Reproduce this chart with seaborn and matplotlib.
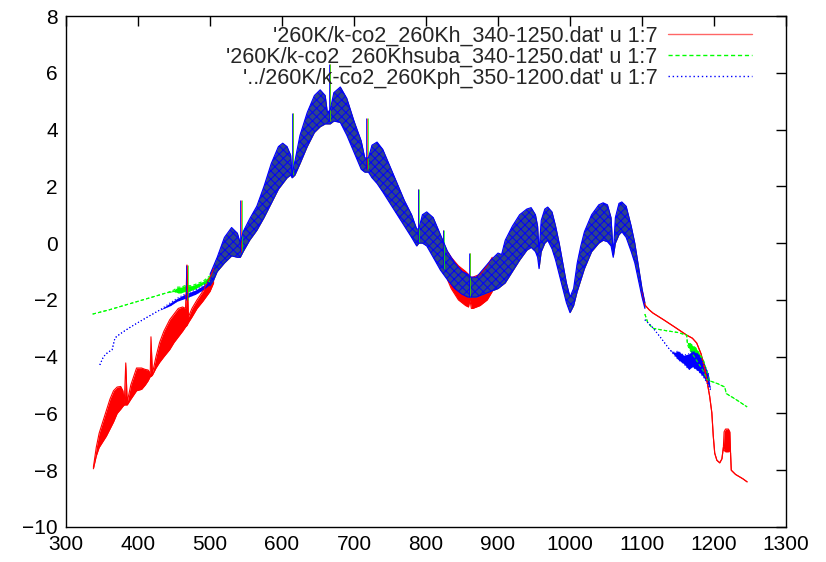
import numpy as np
import pandas as pd
import matplotlib
matplotlib.use("Agg")
import matplotlib.pyplot as plt
import seaborn as sns

# ---------------- data ----------------
labels = ["'260K/k-co2_260Kh_340-1250.dat' u 1:7",
          "'260K/k-co2_260Khsuba_340-1250.dat' u 1:7",
          "'../260K/k-co2_260Kph_350-1200.dat' u 1:7"]
colors = ["#ff0000", "#00ff00", "#0000ff"]

# shared dense absorption band (envelope of the oscillating curves), 500-1104
band_x = [500, 505, 510, 520, 530, 538, 542, 546, 555, 565, 575, 585, 595, 601, 607,
          612, 614, 618, 625, 635, 645, 653, 660, 663, 667, 672, 681, 690, 700, 710,
          715, 720, 725, 732, 740, 750, 760, 770, 780, 787, 790, 795, 801, 810, 820,
          830, 840, 850, 858, 862, 870, 880, 890, 900, 905, 910, 920, 930, 940, 946,
          952, 955, 957, 960, 965, 969, 975, 980, 985, 990, 995, 1000, 1005, 1010,
          1015, 1020, 1030, 1040, 1046, 1052, 1057, 1060, 1063, 1068, 1072, 1078,
          1085, 1090, 1095, 1100, 1104]
band_hi = [-1.1, -0.8, -0.5, 0.2, 0.55, 0.35, 0.0, 0.4, 0.85, 1.3, 2.0, 2.8, 3.4, 3.52, 3.4,
           3.1, 2.4, 2.9, 3.8, 4.6, 5.2, 5.4, 5.2, 4.6, 4.7, 5.3, 5.5, 5.1, 4.3, 3.6,
           3.0, 3.0, 3.45, 3.56, 3.3, 2.7, 2.1, 1.5, 1.0, 0.5, 0.5, 1.0, 1.1, 0.9, 0.3,
           -0.3, -0.7, -1.0, -1.1, -1.2, -1.2, -0.9, -0.6, -0.35, -0.4, 0.1, 0.6, 1.0, 1.2, 1.25,
           1.0, 0.6, -0.3, 0.8, 1.2, 1.27, 1.1, 0.6, 0.0, -0.7, -1.4, -1.9, -1.6, -0.7,
           -0.1, 0.4, 1.0, 1.35, 1.42, 1.35, 0.9, -0.4, 0.9, 1.4, 1.45, 1.3,
           0.6, 0.0, -0.8, -1.6, -2.1]
band_lo = [-1.5, -1.3, -1.0, -0.7, -0.45, -0.5, -0.5, -0.3, 0.1, 0.45, 0.9, 1.4, 1.9, 2.1, 2.3,
           2.4, 2.3, 2.4, 2.8, 3.4, 3.9, 4.1, 4.2, 4.2, 4.2, 4.3, 4.25, 3.8, 3.2, 2.6,
           2.5, 2.5, 2.3, 2.1, 1.8, 1.4, 1.0, 0.6, 0.2, -0.1, 0.0, 0.0, -0.1, -0.5, -0.95,
           -1.3, -1.6, -1.8, -1.9, -1.9, -1.9, -1.8, -1.7, -1.6, -1.5, -1.4, -1.0, -0.6, -0.25, -0.15,
           -0.3, -0.5, -0.9, -0.3, 0.0, 0.1, -0.2, -0.6, -1.1, -1.6, -2.1, -2.45, -2.2, -1.7,
           -1.3, -0.9, -0.3, 0.0, 0.1, 0.05, -0.1, -0.5, 0.0, 0.3, 0.4, 0.2,
           -0.3, -0.7, -1.3, -1.9, -2.3]

# narrow spikes shared by the three curves
spike_x = [468, 543, 615, 666, 718, 789, 824, 861]
spike_top = [-0.77, 1.52, 4.6, 6.3, 4.4, 1.9, 0.46, -0.35]
spike_base = [-2.0, -0.3, 2.4, 4.3, 2.6, 0.0, -0.9, -1.9]

# red curve (260Kh)
red_left_x = [338, 342, 346, 351, 356, 361, 366, 371, 376, 379, 381, 383, 385, 390, 398,
              405, 410, 414, 417, 418, 420, 425, 430, 436, 444, 450, 456, 462, 466, 468,
              470, 475, 482, 490, 500, 505]
red_left_hi = [-7.9, -7.2, -6.7, -6.3, -5.9, -5.5, -5.2, -5.07, -5.05, -5.2, -5.6, -4.22, -5.6, -5.0, -4.4,
               -4.4, -4.45, -4.47, -4.6, -3.3, -4.6, -4.0, -3.5, -3.1, -2.7, -2.5, -2.3, -2.25, -2.3, -0.77,
               -2.6, -2.3, -2.0, -1.7, -1.2, -0.9]
red_left_lo = [-7.95, -7.5, -7.2, -7.0, -6.8, -6.55, -6.3, -6.0, -5.85, -5.75, -5.7, -5.7, -5.7, -5.5, -5.2,
               -5.15, -5.0, -4.85, -4.7, -4.7, -4.65, -4.4, -4.2, -4.0, -3.75, -3.5, -3.3, -3.1, -2.95, -2.9,
               -2.8, -2.6, -2.3, -2.05, -1.7, -1.4]
red_dev_x = [830, 835, 845, 855, 859, 861, 863, 865, 875, 885, 892]
red_dev_lo = [-1.3, -1.6, -2.0, -2.2, -2.25, -2.0, -2.3, -2.3, -2.2, -2.0, -1.7]
red_dev_hi = [-0.3, -0.5, -0.8, -1.0, -1.1, -1.2, -1.2, -1.2, -1.1, -0.8, -0.5]
red_tail_x = [1100, 1104, 1110, 1115, 1130, 1145, 1162, 1170, 1176, 1182, 1186, 1190, 1194, 1197,
              1199, 1201, 1204, 1208, 1211, 1213, 1214, 1216, 1220, 1222, 1223, 1224, 1230,
              1240, 1246]
red_tail_hi = [-1.7, -2.18, -2.35, -2.46, -2.7, -2.95, -3.24, -3.35, -3.52, -3.9, -4.3, -4.82, -5.4, -5.98,
               -6.8, -7.4, -7.65, -7.74, -7.6, -7.2, -6.65, -6.55, -6.55, -6.65, -7.4, -8.0, -8.15,
               -8.3, -8.41]
red_tail_lo = [-1.7, -2.18, -2.35, -2.46, -2.7, -2.95, -3.24, -3.35, -3.52, -3.9, -4.3, -4.82, -5.4, -5.98,
               -6.8, -7.4, -7.65, -7.74, -7.6, -7.2, -7.3, -7.35, -7.35, -7.3, -7.4, -8.0, -8.15,
               -8.3, -8.41]

# green curve (260Khsuba)
green_left_x = [337, 360, 380, 400, 420, 440, 450, 455, 460, 465, 470, 475, 480, 490, 500]
green_left_hi = [-2.5, -2.35, -2.2, -2.05, -1.9, -1.75, -1.65, -1.55, -1.55, -1.5, -1.5, -1.5, -1.45, -1.35, -1.15]
green_left_lo = [-2.5, -2.35, -2.2, -2.05, -1.9, -1.75, -1.7, -1.75, -1.75, -1.7, -1.7, -1.65, -1.6, -1.45, -1.35]
green_tail_x = [1104, 1108, 1115, 1130, 1150, 1162, 1163, 1165, 1175, 1185, 1190, 1194, 1205,
                1215, 1217, 1230, 1246]
green_tail_hi = [-2.5, -2.8, -3.0, -3.07, -3.15, -3.24, -3.5, -3.5, -3.7, -4.1, -4.5, -4.85, -4.95,
                 -5.07, -5.3, -5.5, -5.77]
green_tail_lo = [-2.5, -2.8, -3.0, -3.07, -3.15, -3.24, -3.55, -3.7, -4.1, -4.5, -4.8, -4.85, -4.95,
                 -5.07, -5.3, -5.5, -5.77]

# blue curve (260Kph)
blue_left_x = [347, 352, 358, 364, 368, 375, 390, 410, 430, 445, 454, 465, 480, 490, 500]
blue_left_hi = [-4.29, -4.0, -3.85, -3.76, -3.34, -3.2, -2.95, -2.65, -2.36, -2.1, -1.95, -1.8, -1.65, -1.5, -1.3]
blue_left_lo = [-4.29, -4.0, -3.85, -3.76, -3.34, -3.2, -2.95, -2.65, -2.36, -2.2, -2.05, -1.95, -1.8, -1.65, -1.45]
blue_tail_x = [1104, 1114, 1125, 1139, 1145, 1150, 1158, 1165, 1170, 1178, 1185, 1192, 1195]
blue_tail_hi = [-2.7, -2.95, -3.3, -3.77, -3.85, -3.8, -3.95, -3.9, -3.8, -3.9, -4.2, -4.6, -5.17]
blue_tail_lo = [-2.7, -2.95, -3.3, -3.77, -3.95, -4.1, -4.25, -4.45, -4.35, -4.5, -4.7, -5.0, -5.17]

# ---------------- figure ----------------
sns.set_theme(style="white")
plt.rcParams["font.family"] = ["Liberation Sans", "DejaVu Sans"]
plt.rcParams["hatch.linewidth"] = 0.7

fig = plt.figure(figsize=(8.26, 5.62), dpi=100)
ax = fig.add_axes([66 / 826, 1 - 527 / 562, 720 / 826, 511 / 562])


def draw_band(x, lo, hi, color, alpha=1.0, ls="-", lw=0.8, hatch=None, edge=True):
    if hatch is None:
        ax.fill_between(x, lo, hi, color=color, alpha=alpha, lw=0)
    else:
        ax.fill_between(x, lo, hi, facecolor=matplotlib.colors.to_rgba(color, alpha),
                        edgecolor=color, hatch=hatch, lw=0)
    if edge:
        sns.lineplot(x=x, y=hi, ax=ax, color=color, lw=lw, linestyle=ls,
                     estimator=None, sort=False)
        sns.lineplot(x=x, y=lo, ax=ax, color=color, lw=lw, linestyle=ls,
                     estimator=None, sort=False)


# red
draw_band(red_left_x, red_left_lo, red_left_hi, colors[0])
draw_band(band_x, band_lo, band_hi, colors[0], edge=False)
draw_band(red_dev_x, red_dev_lo, red_dev_hi, colors[0])
draw_band(red_tail_x, red_tail_lo, red_tail_hi, colors[0])
ax.vlines(spike_x, spike_base, spike_top, color=colors[0], lw=0.5)
# green
draw_band(green_left_x, green_left_lo, green_left_hi, colors[1], ls=(0, (3, 2)))
draw_band(band_x, band_lo, band_hi, colors[1], alpha=0.6, edge=False)
draw_band(green_tail_x, green_tail_lo, green_tail_hi, colors[1], ls=(0, (3, 2)))
ax.vlines([s + 0.8 for s in spike_x], spike_base, spike_top, color=colors[1], lw=0.5)
# blue
draw_band(blue_left_x, blue_left_lo, blue_left_hi, colors[2], ls=(0, (1, 2)))
draw_band(band_x, band_lo, band_hi, colors[2], alpha=0.55, hatch="xxxx", lw=0.8)
draw_band(blue_tail_x, blue_tail_lo, blue_tail_hi, colors[2], ls=(0, (1, 2)))
ax.vlines([s - 0.8 for s in spike_x], spike_base, spike_top, color=colors[2], lw=0.6)

ax.set_xlim(300, 1300)
ax.set_ylim(-10, 8)
ax.set_xticks(np.arange(300, 1301, 100))
ax.set_yticks(np.arange(-10, 9, 2))
ax.set_xlabel("")
ax.set_ylabel("")
for s in ax.spines.values():
    s.set_color("black")
    s.set_linewidth(1.0)
ax.tick_params(direction="in", length=7, width=1, top=True, right=True,
               labelsize=15, colors="black", pad=6)

handles = [plt.Line2D([], [], color=colors[0], lw=1.0, alpha=0.6),
           plt.Line2D([], [], color=colors[1], lw=1.0, linestyle=(0, (3, 2))),
           plt.Line2D([], [], color=colors[2], lw=1.0, linestyle=(0, (1, 2)))]
ax.legend(handles, labels, loc="upper right", bbox_to_anchor=(752 / 826, 1 - 26 / 562),
          bbox_transform=fig.transFigure, frameon=False, markerfirst=False,
          fontsize=15.5, handlelength=3.9, handletextpad=0.5, labelspacing=0.0,
          borderpad=0, borderaxespad=0)

fig.savefig("out.png", dpi=100)
